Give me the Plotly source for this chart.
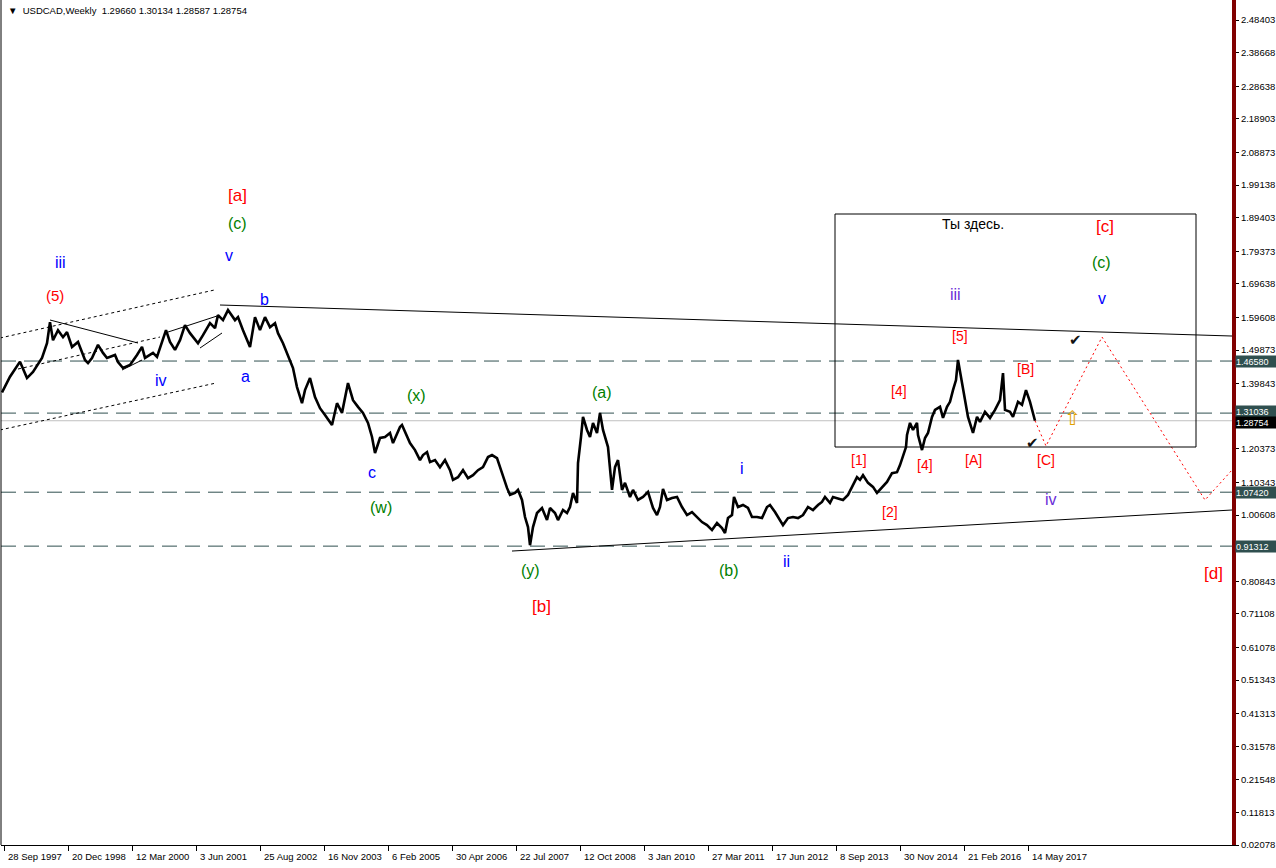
import pandas as pd
import plotly.graph_objects as go

# ---------------- data (weeks counted from 28 Sep 1997, weekly closes) ----------------
BASE = "1997-09-28"

price_weeks = [-2, 6, 16, 23, 29, 38, 43, 46, 49, 54, 59, 63, 68, 74, 81, 84, 88, 94, 99, 103,
               111, 114, 119, 126, 133, 138, 141, 149, 153, 156, 162, 166, 171, 176, 181, 186, 194, 199, 206, 211,
               214, 219, 224, 231, 234, 239, 246, 251, 256, 261, 266, 271, 274, 279, 283, 286, 289, 293, 298, 301,
               306, 311, 316, 321, 326, 328, 333, 338, 344, 349, 354, 359, 364, 368, 371, 376, 381, 386, 389, 396,
               398, 401, 406, 411, 416, 419, 423, 426, 431, 436, 441, 446, 449, 454, 459, 464, 469, 474, 479, 484,
               488, 493, 496, 499, 503, 506, 511, 514, 518, 521, 524, 526, 529, 533, 538, 543, 546, 551, 554, 559,
               563, 566, 569, 573, 574, 577, 579, 583, 586, 589, 593, 596, 599, 604, 608, 611, 614, 618, 621, 626,
               629, 634, 639, 644, 649, 653, 656, 659, 663, 668, 673, 678, 683, 688, 693, 698, 703, 708, 713, 718,
               721, 724, 728, 730, 734, 739, 744, 748, 753, 758, 763, 766, 771, 776, 779, 784, 789, 794, 799, 804,
               809, 814, 818, 821, 826, 829, 839, 844, 849, 853, 856, 859, 864, 869, 873, 878, 883, 888, 893, 896,
               899, 902, 903, 906, 909, 913, 914, 918, 921, 924, 928, 931, 936, 939, 943, 946, 949, 952, 954, 958,
               961, 964, 969, 973, 976, 981, 986, 991, 996, 999, 1001, 1006, 1009, 1014, 1018, 1022, 1026, 1029, 1031]

price_close = [1.372, 1.419, 1.464, 1.415, 1.433, 1.475, 1.519, 1.582, 1.528, 1.558, 1.537, 1.552, 1.508, 1.523, 1.469, 1.460, 1.475, 1.514, 1.490, 1.475,
               1.484, 1.463, 1.445, 1.454, 1.484, 1.508, 1.475, 1.490, 1.478, 1.505, 1.558, 1.523, 1.499, 1.528, 1.573, 1.549, 1.519, 1.543, 1.579, 1.564,
               1.603, 1.588, 1.618, 1.588, 1.597, 1.558, 1.508, 1.597, 1.558, 1.597, 1.567, 1.579, 1.549, 1.519, 1.490, 1.469, 1.445, 1.388, 1.340, 1.379,
               1.415, 1.358, 1.325, 1.305, 1.284, 1.275, 1.340, 1.311, 1.400, 1.349, 1.329, 1.311, 1.281, 1.239, 1.191, 1.236, 1.239, 1.251, 1.221, 1.269,
               1.275, 1.254, 1.221, 1.200, 1.170, 1.185, 1.194, 1.164, 1.170, 1.149, 1.170, 1.140, 1.111, 1.119, 1.140, 1.116, 1.125, 1.140, 1.149, 1.179,
               1.185, 1.176, 1.149, 1.119, 1.087, 1.066, 1.072, 1.081, 1.051, 1.000, 0.970, 0.916, 0.970, 1.012, 1.027, 0.991, 1.027, 1.012, 0.991, 1.021,
               1.012, 1.030, 1.072, 1.042, 1.161, 1.239, 1.299, 1.260, 1.239, 1.281, 1.251, 1.311, 1.260, 1.209, 1.081, 1.149, 1.170, 1.081, 1.102, 1.060,
               1.081, 1.051, 1.060, 1.075, 1.027, 1.006, 1.030, 1.084, 1.051, 1.057, 1.060, 1.030, 1.006, 1.015, 1.000, 0.985, 0.976, 0.961, 0.982, 0.967,
               0.952, 0.997, 1.006, 1.060, 1.030, 1.036, 1.027, 1.000, 1.000, 0.997, 1.030, 1.036, 1.015, 0.991, 0.976, 0.997, 1.000, 0.997, 1.006, 1.030,
               1.021, 1.036, 1.045, 1.060, 1.042, 1.060, 1.051, 1.066, 1.096, 1.119, 1.111, 1.125, 1.102, 1.090, 1.072, 1.090, 1.105, 1.131, 1.134, 1.155,
               1.185, 1.209, 1.245, 1.281, 1.260, 1.281, 1.245, 1.200, 1.236, 1.251, 1.299, 1.320, 1.329, 1.296, 1.329, 1.344, 1.379, 1.409, 1.469, 1.400,
               1.358, 1.299, 1.251, 1.299, 1.284, 1.314, 1.296, 1.320, 1.349, 1.430, 1.320, 1.314, 1.299, 1.344, 1.335, 1.379, 1.344, 1.314, 1.28754]

# price-axis tick labels (the two hidden behind level labels are omitted)
y_ticks = ["2.48403", "2.38668", "2.28638", "2.18903", "2.08873", "1.99138", "1.89403", "1.79373",
           "1.69638", "1.59608", "1.49873", "1.39843", "1.20373", "1.10343", "1.00608",
           "0.80843", "0.71108", "0.61078", "0.51343", "0.41313", "0.31578", "0.21548",
           "0.11813", "0.02078"]

# time-axis ticks (weeks from base, every 64 weeks)
x_tick_weeks = [0, 64, 128, 192, 256, 320, 384, 448, 512, 576, 640, 704, 768, 832, 896, 960, 1024]

# horizontal levels
levels = [1.46580, 1.31036, 1.07420, 0.91312]
level_label_shift = [0, 2, 0, 0]
bid_price = 1.28754

# trend lines (week, price) pairs
trend_lines = [
    [(216, 1.6331), (1228, 1.5405)],          # upper resistance
    [(508, 0.8985), (1228, 1.0210)],          # lower support
    [(46, 1.5883), (134, 1.5196)],            # triangle top
    [(164, 1.5524), (213, 1.6002)],           # wedge top
    [(196, 1.5047), (218, 1.5495)],           # wedge bottom
    [(118, 1.4390), (138, 1.4688)],           # small base line
]
channel_lines = [
    [(-4, 1.5346), (212, 1.6790)],
    [(14, 1.4420), (156, 1.5375)],
    [(-4, 1.2600), (212, 1.4001)],
]
proj_weeks = [1031, 1042, 1098, 1201, 1228]
proj_price = [1.28754, 1.2121, 1.5375, 1.0508, 1.1404]

box_weeks = [831, 1192]
box_price = [1.2091, 1.9048]

label_text = ["(5)", "[a]", "[b]", "[c]", "[d]", "[1]", "[2]", "[4]", "[4]", "[5]", "[A]", "[B]", "[C]",
              "(c)", "(x)", "(w)", "(y)", "(a)", "(b)", "(c)",
              "iii", "v", "b", "a", "iv", "c", "i", "ii", "v",
              "iii", "iv", "Ты здесь."]
label_week = [51, 233, 537, 1101, 1209, 855, 886, 895, 921, 956, 969, 1021, 1042,
              233, 412, 377, 526, 598, 725, 1097,
              56, 225, 260, 241, 157, 368, 738, 782, 1098,
              951, 1047, 969]
label_price = [1.6629, 1.9615, 0.7344, 1.8690, 0.8329, 1.1703, 1.0150, 1.3763, 1.1554, 1.5405, 1.1703, 1.4420, 1.1703,
               1.8779, 1.3644, 1.0300, 0.8418, 1.3733, 0.8418, 1.7615,
               1.7615, 1.7824, 1.6510, 1.4211, 1.4091, 1.1345, 1.1464, 0.8687, 1.6540,
               1.6659, 1.0538, 1.8749]
RED, GREEN, BLUE, VIOLET = "#FF0000", "#008000", "#0000FF", "#6A2BD8"
label_color = [RED] * 13 + [GREEN] * 7 + [BLUE] * 9 + [VIOLET, VIOLET, "#000000"]
label_size = [15, 17, 17, 17, 17, 14, 14, 14, 14, 14, 14, 14, 14,
              16, 16, 16, 16, 16, 16, 16,
              16, 16, 16, 16, 16, 16, 16, 16, 16,
              16, 16, 14]

mark_text = ["✔", "✔", "⇧"]
mark_week = [1071, 1028, 1068]
mark_price = [1.5286, 1.2210, 1.2957]
mark_color = ["#111111", "#111111", "#E0A000"]
mark_size = [15, 15, 20]

header = "▼  USDCAD,Weekly  1.29660 1.30134 1.28587 1.28754"


def wk(w):
    return pd.Timestamp(BASE) + pd.Timedelta(days=7 * w)


FONT = "Liberation Sans"
fig = go.Figure()

# horizontal levels
for lv in levels:
    fig.add_shape(type="line", xref="paper", x0=0, x1=1, y0=lv, y1=lv,
                  line=dict(color="#2F4F4F", width=1, dash="15px,8px"), layer="below")
fig.add_shape(type="line", xref="paper", x0=0, x1=1, y0=bid_price, y1=bid_price,
              line=dict(color="#C0C0C0", width=1), layer="below")

# box
fig.add_shape(type="rect", x0=wk(box_weeks[0]), x1=wk(box_weeks[1]), y0=box_price[0], y1=box_price[1],
              line=dict(color="black", width=1), fillcolor="rgba(0,0,0,0)")

# price
fig.add_trace(go.Scatter(x=[wk(w) for w in price_weeks], y=price_close, mode="lines",
                         line=dict(color="black", width=2.6), hoverinfo="skip"))

for seg in trend_lines:
    fig.add_trace(go.Scatter(x=[wk(p[0]) for p in seg], y=[p[1] for p in seg], mode="lines",
                             line=dict(color="black", width=1), hoverinfo="skip"))
for seg in channel_lines:
    fig.add_trace(go.Scatter(x=[wk(p[0]) for p in seg], y=[p[1] for p in seg], mode="lines",
                             line=dict(color="black", width=1, dash="3px,3px"), hoverinfo="skip"))
fig.add_trace(go.Scatter(x=[wk(w) for w in proj_weeks], y=proj_price, mode="lines",
                         line=dict(color="#FF0000", width=1, dash="2px,3px"), hoverinfo="skip"))

# wave labels
for t, w, p, c, s in zip(label_text, label_week, label_price, label_color, label_size):
    fig.add_annotation(x=wk(w), y=p, text=t, showarrow=False,
                       font=dict(family=FONT, size=s, color=c))
for t, w, p, c, s in zip(mark_text, mark_week, mark_price, mark_color, mark_size):
    fig.add_annotation(x=wk(w), y=p, text=t, showarrow=False,
                       font=dict(family="DejaVu Sans", size=s, color=c))

# time-axis labels (left aligned after tick, MT4 style)
for w in x_tick_weeks:
    d = wk(w)
    fig.add_annotation(x=d, y=0, yref="paper", xanchor="left", yanchor="top", xshift=2, yshift=-4,
                       text=f"{d.day} {d.strftime('%b %Y')}", showarrow=False,
                       font=dict(family=FONT, size=9.5, color="black"))

# highlighted price labels
for lv, sh in zip(levels, level_label_shift):
    fig.add_annotation(x=1, xref="paper", y=lv, xanchor="left", xshift=3, yshift=sh, text=f"{lv:.5f}",
                       showarrow=False, bgcolor="#2F4F4F", borderpad=0, width=40, height=11, align="left",
                       font=dict(family=FONT, size=9, color="white"))
fig.add_annotation(x=1, xref="paper", y=bid_price, xanchor="left", xshift=3, yshift=-2, text=f"{bid_price:.5f}",
                   showarrow=False, bgcolor="#000000", borderpad=0, width=40, height=11, align="left",
                   font=dict(family=FONT, size=9, color="white"))

# header
fig.add_annotation(x=0, xref="paper", y=1, yref="paper", xanchor="left", yanchor="top",
                   xshift=5, yshift=-3, text=header, showarrow=False,
                   font=dict(family=FONT, size=9.5, color="black"))

# left border
fig.add_shape(type="line", xref="paper", yref="paper", x0=0, x1=0, y0=0, y1=1,
              line=dict(color="black", width=1))

fig.update_layout(
    width=1276, height=868,
    margin=dict(l=1, r=44, t=0, b=23),
    paper_bgcolor="white", plot_bgcolor="white",
    showlegend=False,
    xaxis=dict(type="date", range=[wk(-3), wk(1228)], showgrid=False, zeroline=False,
               showline=True, linecolor="black", linewidth=1,
               tickvals=[wk(w) for w in x_tick_weeks], ticks="outside", ticklen=5,
               tickcolor="black", showticklabels=False, fixedrange=True),
    yaxis=dict(side="right", range=[0.02078, 2.5438], showgrid=False, zeroline=False,
               showline=True, linecolor="#800000", linewidth=4,
               tickvals=[float(v) for v in y_ticks], ticktext=y_ticks,
               ticks="outside", ticklen=3, tickcolor="black",
               tickfont=dict(family=FONT, size=9.5, color="black"), fixedrange=True),
)

fig.write_html("out.html", config={"displayModeBar": False},
               post_script="document.body.style.margin='0';document.body.style.overflow='hidden';")
